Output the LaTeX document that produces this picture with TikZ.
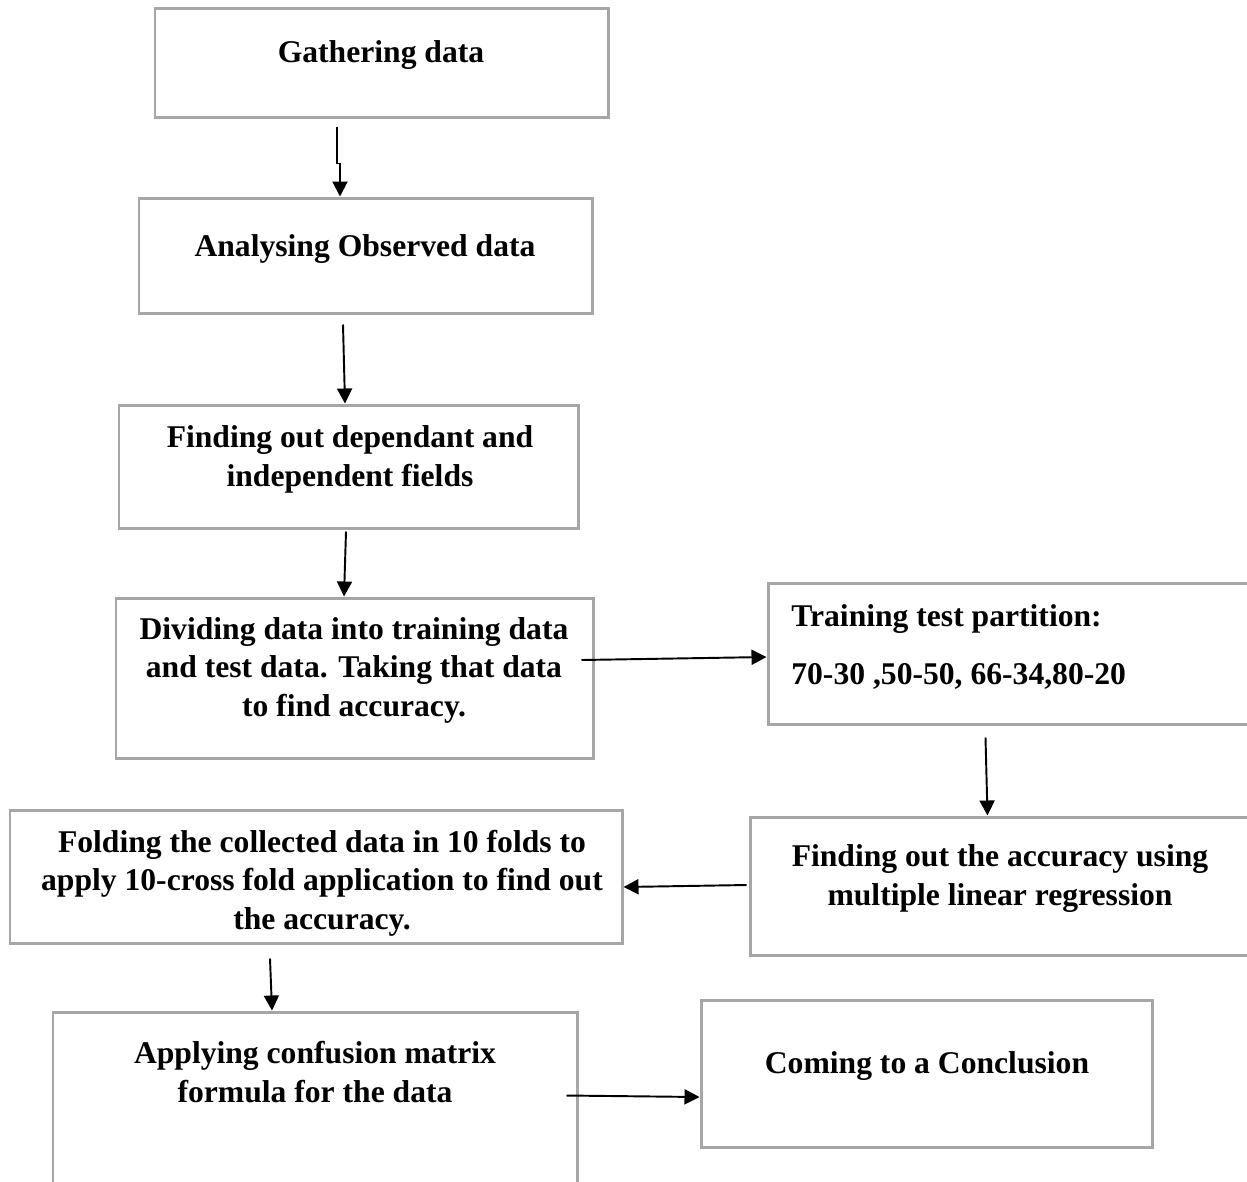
\documentclass[tikz,border=0pt]{standalone}
\usepackage{fontspec}
\setmainfont{Liberation Serif}
\usepackage{xcolor}
\usepackage{tikz}
\usetikzlibrary{arrows.meta,fit,calc}
\definecolor{boxgray}{HTML}{A6A6A6}

\begin{document}
\begin{tikzpicture}[x=0.02cm, y=-0.02cm,
    box/.style={draw=boxgray, line width=1.7pt, inner sep=0pt},
    txt/.style={font=\bfseries\fontsize{18}{21.8}\selectfont, align=center, anchor=base, inner sep=0pt},
    arr/.style={-{Triangle[width=0.3cm,length=0.3cm]}, line width=1.1pt}]
        \useasboundingbox (0,0) rectangle (1247,1181);
        % Boxes
        \node[box, fit={(155,8) (608,117)}] (gather) {};
        \node[box, fit={(139,198) (592,313)}] (analyse) {};
        \node[box, fit={(119,405) (578,528)}] (fields) {};
        \node[box, fit={(116,598) (593,758)}] (divide) {};
        \node[box, fit={(768,583) (1250,724)}] (partition) {};
        \node[box, fit={(750,817) (1250,955)}] (regress) {};
        \node[box, fit={(10,810) (622,943)}] (fold) {};
        \node[box, fit={(53,1012) (577,1210)}] (confusion) {};
        \node[box, fit={(701,1000) (1152,1147)}] (conclude) {};
        % Labels (base = last line)
        \node[txt] (gather-t) at (381,62) {Gathering data};
        \node[txt] (analyse-t) at (365,256) {Analysing Observed data};
        \node[txt] (fields-t) at (350,486) {Finding out dependant and\\independent fields};
        \node[txt] (divide-t) at (354,716) {Dividing data into training data\\and test data. Taking that data\\to find accuracy.};
        \node[txt, anchor=base west, align=left] (partition-t) at (791,684)
          {Training test partition:\\[11pt]70-30 ,50-50, 66-34,80-20};
        \node[txt] (regress-t) at (1000,905) {Finding out the accuracy using\\multiple linear regression};
        \node[txt] (fold-t) at (322,929) {Folding the collected data in 10 folds to\\apply 10-cross fold application to find out\\the accuracy.};
        \node[txt] (confusion-t) at (315,1102) {Applying confusion matrix\\formula for the data};
        \node[txt] (conclude-t) at (927,1073) {Coming to a Conclusion};
        % Arrows
        \draw[arr] ($(gather.south)+(-44.5,8)$) -- ++(0,37) -- ++(3,0)
          -- ($(analyse.north)+(-25.5,0)$);
        \draw[arr] ($(analyse.south)+(-22.5,10)$) -- ($(fields.north)+(-3.5,0)$);
        \draw[arr] ($(fields.south)+(-2.5,2)$) -- ($(divide.north)+(-10.5,0)$);
        \draw[arr] ($(divide.east)+(-13,-18)$) -- ($(partition.west)+(0,3.5)$);
        \draw[arr] ($(partition.south)+(-23.5,12)$) -- ($(regress.north)+(-12.5,0)$);
        \draw[arr] ($(regress.west)+(-2,-1)$) -- ($(fold.east)+(0,10.5)$);
        \draw[arr] ($(fold.south)+(-46,14)$) -- ($(confusion.north)+(-43,0)$);
        \draw[arr] ($(confusion.north east)+(-12,85)$) -- ($(conclude.west)+(0,23.5)$);
\end{tikzpicture}
\end{document}
